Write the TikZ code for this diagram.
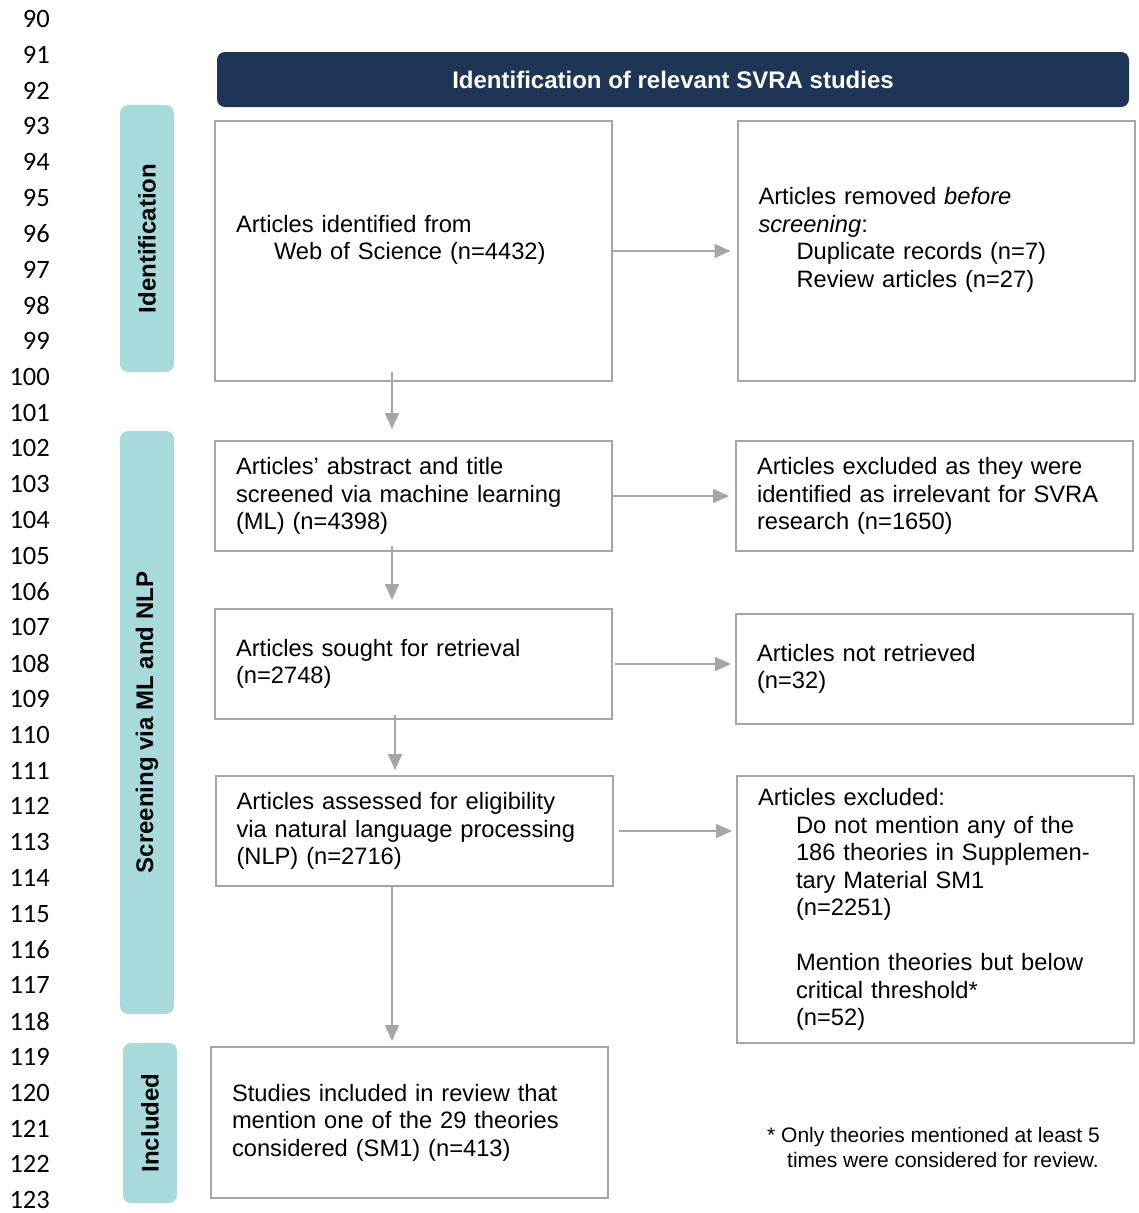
\documentclass[tikz,border=0pt]{standalone}
\usepackage{fontspec}
\setmainfont{Liberation Sans}
\newfontfamily\linenofont{Carlito}
\usepackage{tikz}
\usetikzlibrary{arrows.meta,positioning}

\definecolor{headnavy}{RGB}{31,53,86}
\definecolor{phaseteal}{RGB}{168,217,219}
\definecolor{boxgray}{RGB}{166,166,166}

\tikzset{
  box/.style={draw=boxgray, line width=2pt, align=left, text width=355pt, inner xsep=21pt, inner ysep=0pt, font=\fontsize{23.7}{27.5}\selectfont},
  phase/.style={fill=phaseteal, rounded corners=8pt, rotate=90, minimum height=54pt, inner sep=0pt, font=\bfseries\fontsize{24}{28}\selectfont},
  flow/.style={draw=boxgray, line width=2pt, -{Triangle[length=16pt,width=14pt]}},
  lineno/.style={anchor=east, inner sep=0pt, font=\linenofont\fontsize{26.5}{30}\selectfont}
}

\begin{document}
\begin{tikzpicture}[x=1pt,y=-1pt]
	\useasboundingbox (0,0) rectangle (1139,1213);

	% line numbers
	\foreach \n [count=\i from 0] in {90,...,123}
		\node[lineno] (ln\n) at (50,19+35.79*\i) {\n};

	% header and phases
	\node[fill=headnavy, rounded corners=8pt, minimum width=912pt, minimum height=55pt, text=white, font=\bfseries\fontsize{24}{28}\selectfont] (head) at (673,79.5) {Identification of relevant SVRA studies};
	\node[phase, minimum width=267pt] (phaseid) at (147,238.5) {Identification};
	\node[phase, minimum width=583pt] (phasescr) at (147,722.5) {Screening via ML and NLP};
	\node[phase, minimum width=160pt] (phaseinc) at (150,1123) {Included};

	% main column
	\node[box, minimum height=260pt] (found) at (413.5,251) {Articles identified from\\\hspace*{38pt}Web of Science (n=4432)\\\mbox{}};
	\node[box, minimum height=110pt] (screened) at (413.5,496) {Articles’ abstract and title\\screened via machine learning\\(ML) (n=4398)};
	\node[box, minimum height=110pt] (sought) at (413.5,664) {Articles sought for retrieval\\(n=2748)};
	\node[box, minimum height=110pt] (assessed) at (414,831) {Articles assessed for eligibility\\via natural language processing\\(NLP) (n=2716)};
	\node[box, minimum height=151pt] (included) at (409.5,1122.5) {Studies included in review that\\mention one of the 29 theories\\considered (SM1) (n=413)};

	% side column
	\node[box, minimum height=260pt] (removed) at (936,251) {Articles removed \textit{before}\\\textit{screening}:\\\hspace*{38pt}Duplicate records (n=7)\\\hspace*{38pt}Review articles (n=27)\\\mbox{}};
	\node[box, minimum height=110pt] (excludedml) at (934.5,496) {Articles excluded as they were\\identified as irrelevant for SVRA\\research (n=1650)};
	\node[box, minimum height=110pt] (notret) at (934.5,669) {Articles not retrieved\\(n=32)};
	\node[box, minimum height=267pt] (excludednlp) at (935.5,909.5) {Articles excluded:\\\hspace*{38pt}Do not mention any of the\\\hspace*{38pt}186 theories in Supplemen-\\\hspace*{38pt}tary Material SM1\\\hspace*{38pt}(n=2251)\\[27.5pt]\hspace*{38pt}Mention theories but below\\\hspace*{38pt}critical threshold*\\\hspace*{38pt}(n=52)};

	\node[anchor=west, align=left, inner sep=0pt, font=\fontsize{21}{25}\selectfont] (note) at (767,1147.5) {* Only theories mentioned at least 5\\\hspace*{20pt}times were considered for review.};

	% arrows
	\draw[flow, shorten >=6pt] (found.east) -- (found.east -| removed.west);
	\draw[flow, shorten >=6pt] (screened.east) -- (screened.east -| excludedml.west);
	\draw[flow, shorten <=2pt, shorten >=4pt] (sought.east) -- (sought.east -| notret.west);
	\draw[flow, shorten <=5pt, shorten >=4pt] (assessed.east) -- (assessed.east -| excludednlp.west);

	\draw[flow] ([xshift=-21.5pt,yshift=10pt]found.south) -- ([xshift=-21.5pt,yshift=11pt]screened.north);
	\draw[flow] ([xshift=-21.5pt,yshift=6pt]screened.south) -- ([xshift=-21.5pt,yshift=8pt]sought.north);
	\draw[flow] ([xshift=-18.5pt,yshift=5pt]sought.south) -- ([xshift=-19pt,yshift=5pt]assessed.north);
	\draw[flow] ([xshift=-22pt]assessed.south) -- ([xshift=-17.5pt,yshift=5pt]included.north);
\end{tikzpicture}
\end{document}
